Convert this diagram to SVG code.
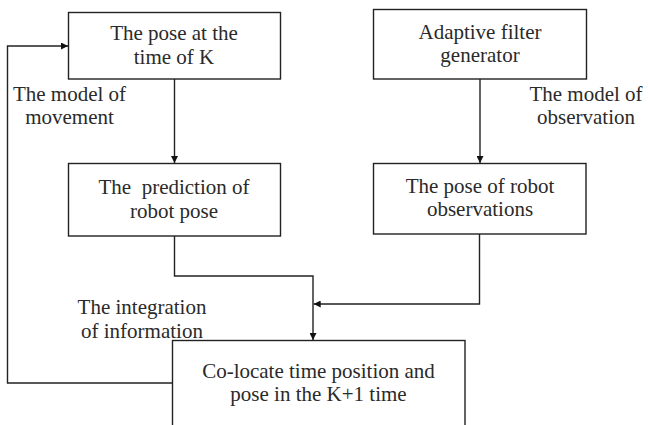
<svg xmlns="http://www.w3.org/2000/svg" width="648" height="425" viewBox="0 0 648 425">
  <style>
    .box { fill: #ffffff; stroke: #222222; stroke-width: 1.4; }
    .lbl { font-family: "Liberation Serif", "Times New Roman", serif; font-size: 21px; fill: #2a2a2a; text-anchor: middle; }
    .wire { fill: none; stroke: #222222; stroke-width: 1.4; }
  </style>
  <defs>
    <marker id="arrow" viewBox="0 0 10 10" refX="10" refY="5" markerWidth="8" markerHeight="7" markerUnits="userSpaceOnUse" orient="auto">
      <path d="M0,0 L10,5 L0,10 z" fill="#111111"/>
    </marker>
  </defs>
  <rect width="648" height="425" fill="#ffffff"/>

  <g id="connectors">
    <!-- pose at K -> prediction -->
    <line class="wire" x1="174.5" y1="79" x2="174.5" y2="163" marker-end="url(#arrow)"/>
    <!-- filter generator -> observations -->
    <line class="wire" x1="480" y1="79" x2="480" y2="163" marker-end="url(#arrow)"/>
    <!-- prediction -> integration -> final box -->
    <polyline class="wire" points="174.5,236 174.5,276 313,276 313,340" marker-end="url(#arrow)"/>
    <!-- observations -> integration -->
    <polyline class="wire" points="479.5,234 479.5,304 313.7,304" marker-end="url(#arrow)"/>
    <!-- feedback loop to next step -->
    <polyline class="wire" points="172.5,383 7.5,383 7.5,46 68,46" marker-end="url(#arrow)"/>
  </g>

  <g id="node-pose-k">
    <rect class="box" x="68.5" y="12.5" width="212" height="66.5"/>
    <text class="lbl" x="174" y="40">The pose at the</text>
    <text class="lbl" x="174" y="64">time of K</text>
  </g>

  <g id="node-filter">
    <rect class="box" x="373.5" y="9.5" width="213" height="69.5"/>
    <text class="lbl" x="480" y="39">Adaptive filter</text>
    <text class="lbl" x="480" y="62">generator</text>
  </g>

  <g id="node-prediction">
    <rect class="box" x="68.5" y="163.5" width="212" height="72.5"/>
    <text class="lbl" x="174" y="194" xml:space="preserve">The  prediction of</text>
    <text class="lbl" x="174" y="218">robot pose</text>
  </g>

  <g id="node-observation">
    <rect class="box" x="373.5" y="163.5" width="212.5" height="70.5"/>
    <text class="lbl" x="480" y="193">The pose of robot</text>
    <text class="lbl" x="480" y="216">observations</text>
  </g>

  <g id="node-colocate">
    <rect class="box" x="172.5" y="340.5" width="292.5" height="100"/>
    <text class="lbl" x="318.5" y="378">Co-locate time position and</text>
    <text class="lbl" x="318.5" y="401">pose in the K+1 time</text>
  </g>

  <g id="labels">
    <text class="lbl" x="69.5" y="101">The model of</text>
    <text class="lbl" x="69.5" y="124">movement</text>
    <text class="lbl" x="586" y="101">The model of</text>
    <text class="lbl" x="586" y="124">observation</text>
    <text class="lbl" x="142" y="314">The integration</text>
    <text class="lbl" x="142" y="338">of information</text>
  </g>
</svg>
